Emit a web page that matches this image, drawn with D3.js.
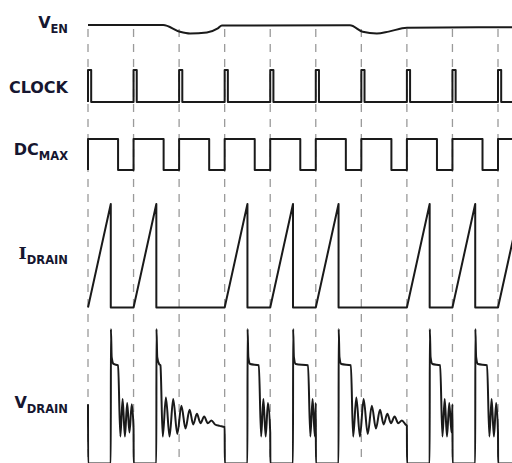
<!DOCTYPE html>
<html>
<head>
<meta charset="utf-8">
<script src="https://cdn.jsdelivr.net/npm/d3@7"></script>
<style>
  body { margin: 0; background: #fff; }
  svg { display: block; }
</style>
</head>
<body>
<script>
// clock edges (in clock periods) and whether the switch turns on in that cycle
const clockEdges = [0, 1, 2, 3, 4, 5, 6, 7, 8, 9]
const switching = [1, 1, 0, 1, 1, 1, 0, 1, 1, 1]
// end of the flat (reflected) part of V_DRAIN, per cycle, in periods after the edge
const plateauEnd = [0.66, 0.59, 0, 0.75, 0.83, 0.77, 0, 0.73, 0.76, 0.75]

const clockWidth = 0.07   // clock pulse width
const dcMaxDuty = 0.66    // max duty cycle
const turnOff = 0.5       // where current peaks and switch turns off
const rise = 0.003        // a step edge, kept just off vertical for the curve
const tEnd = 9.31         // right edge of the picture

// V_EN level (1 = high)
const venTime = [0, 1.65, 2.02, 2.24, 2.61, 2.85, 2.94, 5.75, 6.03, 6.34, 6.6, 7.0, 9.31]
const venLevel = [1, 1, 0.2, 0, 0.13, 0.6, 0.95, 0.96, 0.2, 0, 0.22, 0.68, 0.75]

// V_DRAIN pieces (level 1 = spike top)
const vdrainStart = 0.44
const spikeTime = [0.02, 0.06]
const spikeLevel = [0.79, 0.74]
const plateauLevel = 0.73
// short ringing (next cycle switches), time after plateau end
const shortRingTime = [0.05, 0.1, 0.15, 0.2, 0.25, 0.3, 0.35, 0.4]
const shortRingLevel = [0.2, 0.48, 0.2, 0.45, 0.23, 0.44, 0.26, 0.42]
// long ringing (next cycle skipped)
const longRingTime = [0.05, 0.12, 0.2, 0.28, 0.37, 0.46, 0.55, 0.64, 0.72, 0.8, 0.88, 0.96, 1.04, 1.12, 1.2, 1.3, 1.42]
const longRingLevel = [0.2, 0.49, 0.2, 0.48, 0.22, 0.43, 0.26, 0.4, 0.29, 0.37, 0.3, 0.35, 0.3, 0.32, 0.29, 0.28, 0.27]

const labels = [
  { main: 'V', sub: 'EN', y: 28, serif: false },
  { main: 'CLOCK', sub: '', y: 93, serif: false },
  { main: 'DC', sub: 'MAX', y: 155, serif: false },
  { main: 'I', sub: 'DRAIN', y: 259, serif: true },
  { main: 'V', sub: 'DRAIN', y: 408, serif: false }
]

const W = 512, H = 463

const svg = d3.select('body').append('svg')
  .attr('width', W)
  .attr('height', H)

const x = d3.scaleLinear().domain([0, 9]).range([88, 498])

// one y scale per trace
const yVen = d3.scaleLinear().domain([0, 1]).range([33.5, 25])
const yClk = d3.scaleLinear().domain([0, 1]).range([102, 70])
const yDc = d3.scaleLinear().domain([0, 1]).range([170, 139])
const yId = d3.scaleLinear().domain([0, 1]).range([307.5, 204])
const yVd = d3.scaleLinear().domain([0, 1]).range([463.5, 329])

// dashed clock lines
svg.append('g').selectAll('line')
  .data(clockEdges)
  .enter()
  .append('line')
    .attr('x1', d => x(d))
    .attr('x2', d => x(d))
    .attr('y1', 29)
    .attr('y2', H)
    .attr('stroke', '#9a9a9a')
    .attr('stroke-width', 1.3)
    .attr('stroke-dasharray', '8,7')

// build point lists
const venPts = venTime.map((t, i) => [t, venLevel[i]])

let clkPts = []
clockEdges.forEach(e => {
  clkPts.push([e, 0], [e, 1], [e + clockWidth, 1], [e + clockWidth, 0])
})
clkPts.push([tEnd, 0])

let dcPts = []
clockEdges.forEach(e => {
  dcPts.push([e, 0], [e, 1], [e + dcMaxDuty, 1], [e + dcMaxDuty, 0])
})

let idPts = [[0, 0]]
clockEdges.forEach((e, i) => {
  if (switching[i]) idPts.push([e, 0], [e + turnOff, 1], [e + turnOff, 0])
})
idPts.push([tEnd + 1, 0])

let vdPts = [[0, vdrainStart], [rise, 0]]
clockEdges.forEach((e, i) => {
  if (!switching[i]) return
  const off = e + turnOff
  vdPts.push([off, 0], [off + rise, 1])
  spikeTime.forEach((t, k) => vdPts.push([off + t, spikeLevel[k]]))
  const pe = e + plateauEnd[i]
  vdPts.push([pe, plateauLevel])
  // next on-edge
  let next = clockEdges.find((c, k) => c > e && switching[k])
  if (next === undefined) next = tEnd + 1
  const long = next - e > 1
  const rt = long ? longRingTime : shortRingTime
  const rl = long ? longRingLevel : shortRingLevel
  let last = rl[rl.length - 1]
  for (let k = 0; k < rt.length; k++) {
    if (pe + rt[k] >= next - 0.015) { last = rl[k]; break }
    vdPts.push([pe + rt[k], rl[k]])
  }
  vdPts.push([next, last], [next + rise, 0])
})

function trace(pts, y, curve) {
  const line = d3.line()
    .x(d => x(d[0]))
    .y(d => y(d[1]))
    .curve(curve || d3.curveLinear)
  svg.append('path')
    .attr('d', line(pts))
    .attr('fill', 'none')
    .attr('stroke', '#1a1a1a')
    .attr('stroke-width', 2)
    .attr('stroke-linejoin', 'round')
}

trace(venPts, yVen, d3.curveMonotoneX)
trace(clkPts, yClk)
trace(dcPts, yDc)
trace(idPts, yId)
trace(vdPts, yVd, d3.curveMonotoneX)

// labels, right aligned at x=68
labels.forEach(l => {
  const t = svg.append('text')
    .attr('x', 68)
    .attr('y', l.y)
    .attr('text-anchor', 'end')
    .attr('fill', '#161630')
    .attr('font-family', 'DejaVu Sans, Verdana, sans-serif')
    .attr('font-weight', 'bold')
  t.append('tspan')
    .attr('font-size', l.serif ? '17.5px' : '16px')
    .attr('font-family', l.serif ? 'DejaVu Serif, serif' : null)
    .text(l.main)
  if (l.sub) {
    t.append('tspan')
      .attr('font-size', '11.5px')
      .attr('dy', 4.5)
      .text(l.sub)
  }
})
</script>
</body>
</html>
